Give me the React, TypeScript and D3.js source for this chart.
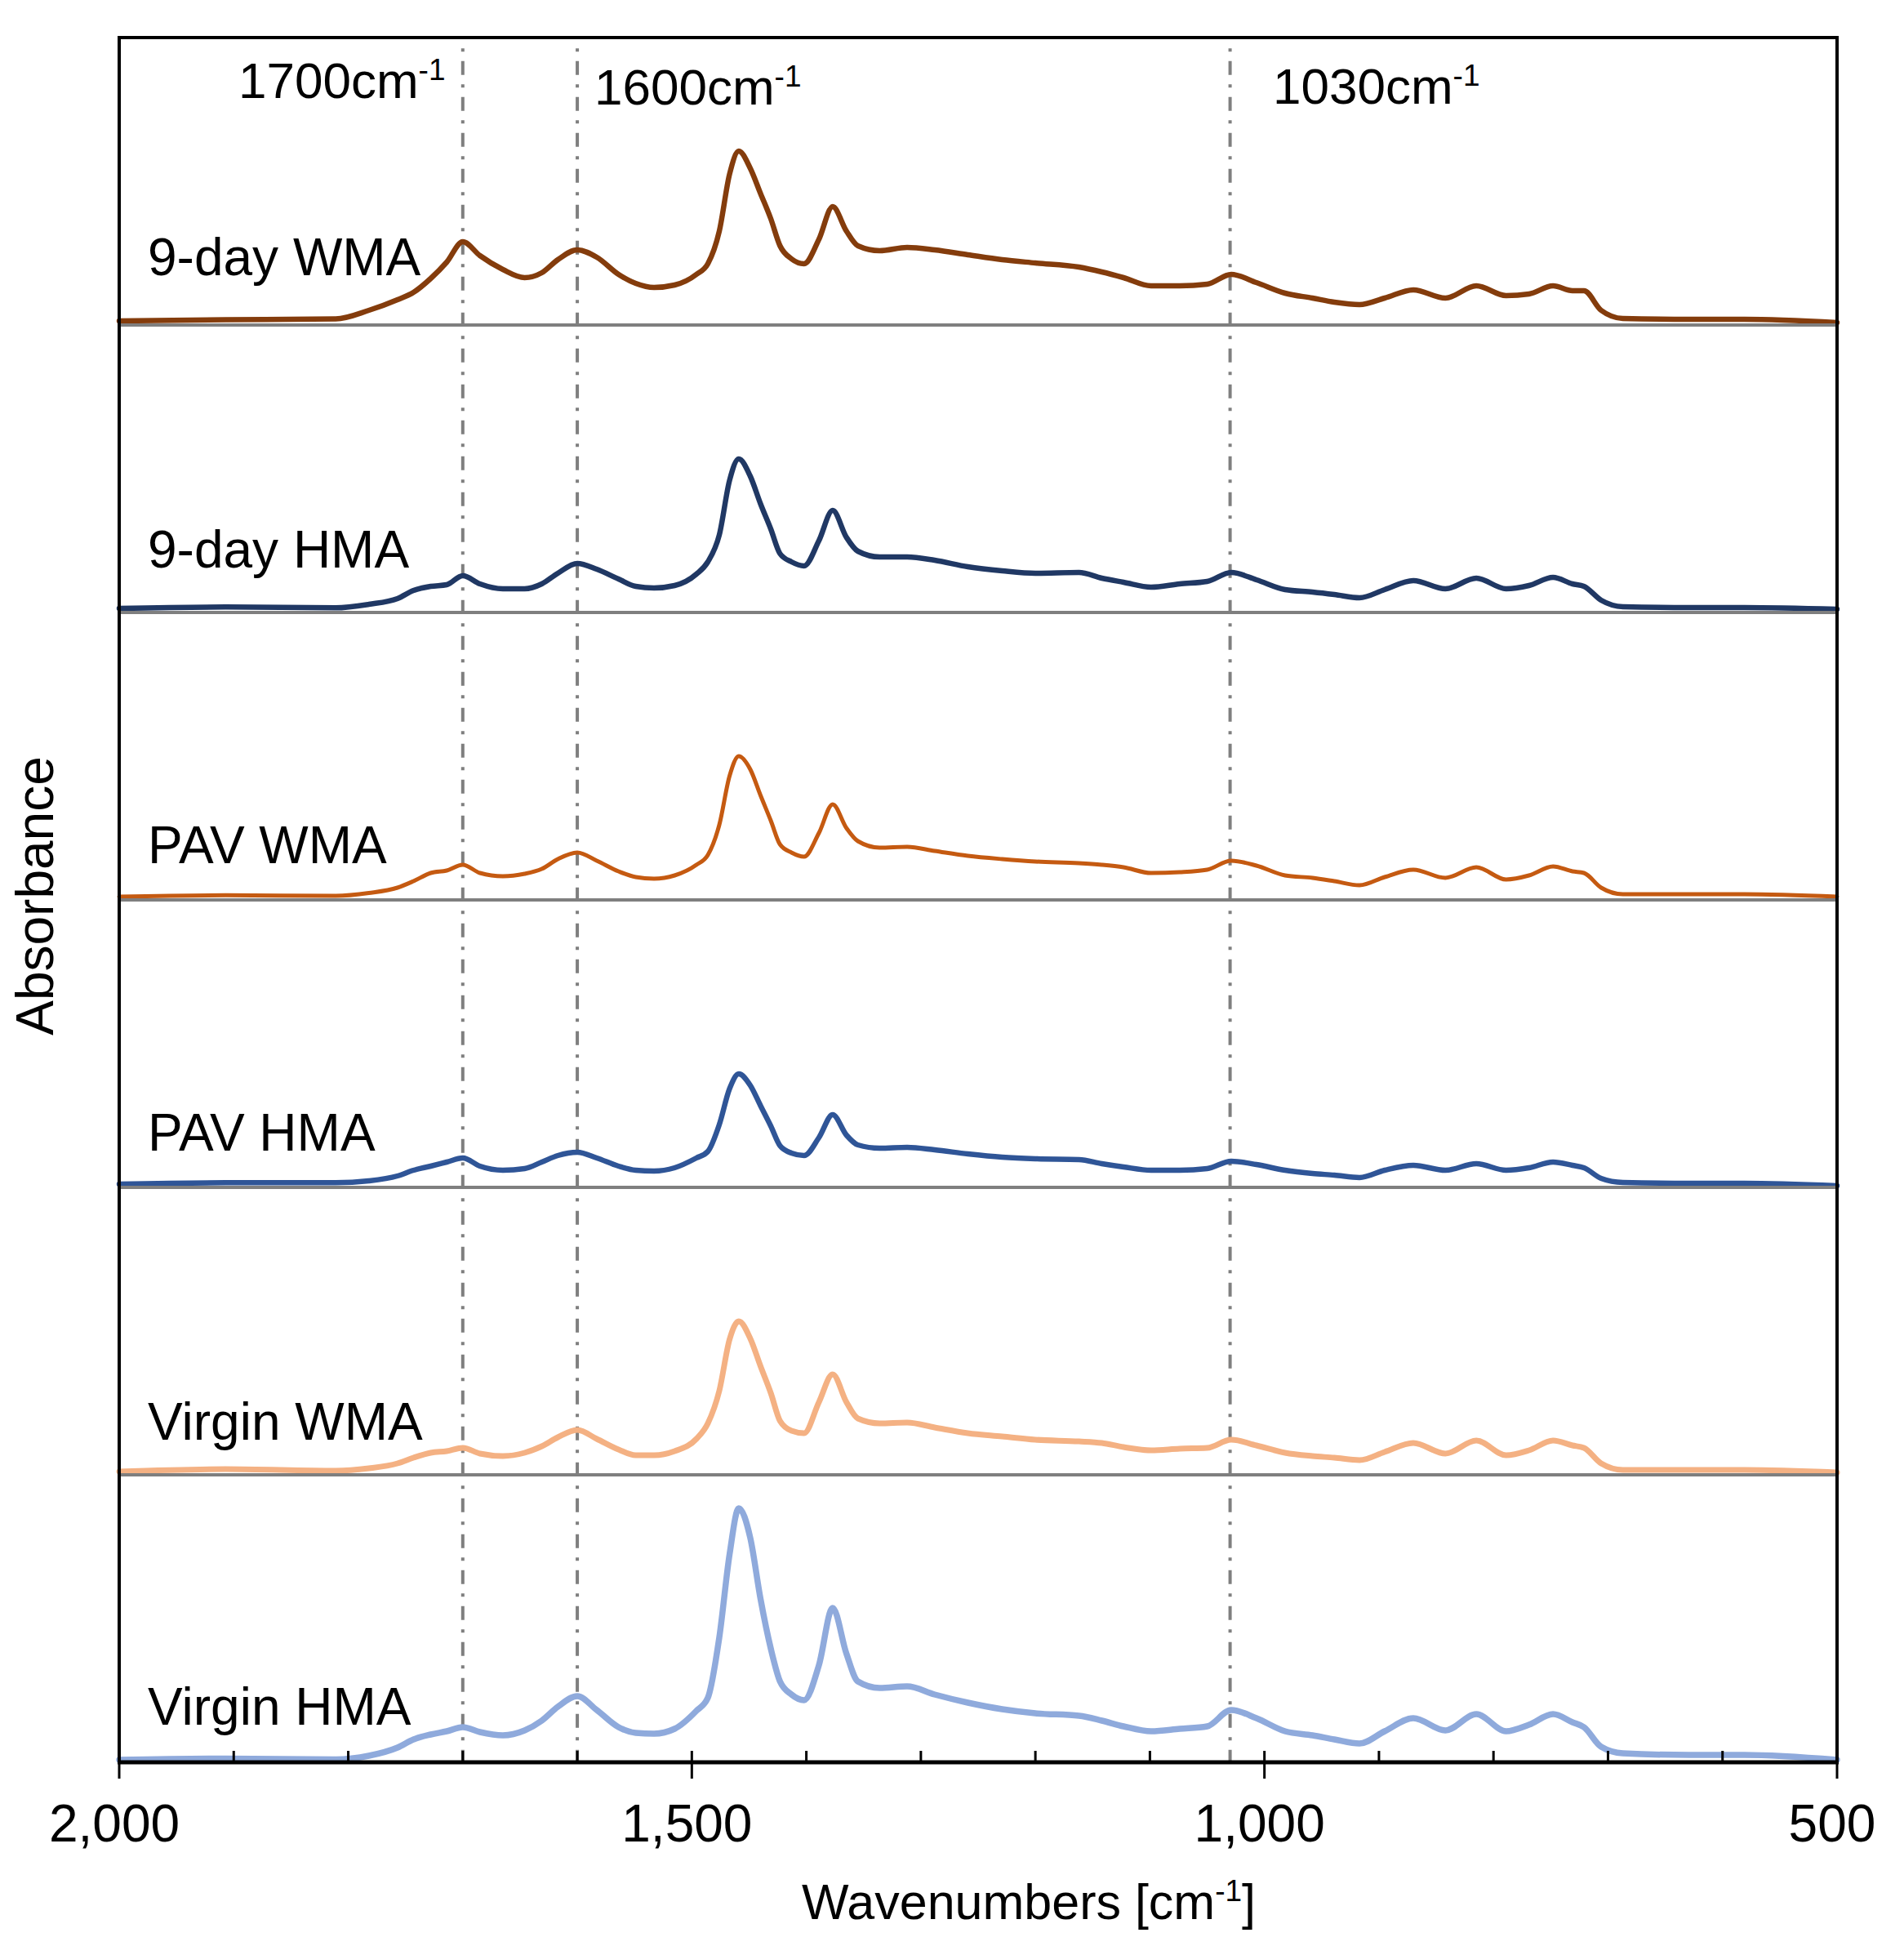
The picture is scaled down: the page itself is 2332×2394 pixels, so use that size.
import React from 'react';
import * as d3 from 'd3';

// ---------- DATA ----------
const wavenumbers = [2000, 1907, 1811, 1782, 1757, 1743, 1728, 1714, 1700, 1685, 1665, 1646, 1631, 1617, 1600, 1583, 1564, 1549, 1533, 1515, 1496, 1486, 1476, 1467, 1459, 1449, 1440, 1431, 1423, 1413, 1402, 1389, 1377, 1365, 1355, 1336, 1312, 1288, 1259, 1229, 1200, 1162, 1142, 1123, 1099, 1074, 1050, 1029, 1007, 982, 958, 939, 917, 895, 870, 842, 815, 789, 769, 748, 731, 721, 706, 687, 629, 581, 500];

// absorbance (arbitrary units, x1e-3) above each panel's own baseline
const nineDayWMA = [5, 6.5, 7.5, 18, 31, 40, 57, 77, 102, 85, 68, 58, 64, 80, 92, 83, 62, 51, 46, 49, 62, 75, 115, 185, 213, 192, 161, 130, 97, 81, 75, 105, 145, 115, 97, 91, 95, 92, 86, 80, 76, 71, 65, 58, 48, 48, 50, 62, 52, 39, 33, 28, 25, 33, 43, 33, 48, 36, 38, 48, 42, 42, 18, 8, 7, 7, 3];
const nineDayHMA = [5, 6.7, 5.7, 10, 17, 27, 32, 34, 45, 35, 29, 29, 35, 48, 60, 53, 41, 32, 30, 33, 47, 62, 95, 162, 188, 167, 133, 102, 72, 62, 57, 88, 125, 92, 75, 68, 68, 64, 56, 51, 48, 49, 42, 37, 31, 35, 38, 49, 40, 28, 25, 22, 18, 28, 39, 29, 42, 29, 33, 43, 35, 32, 15, 7, 6, 6, 4];
const pavWMA = [4, 5.7, 5, 8.5, 15, 23, 33, 36, 43, 33, 29, 32, 38, 50, 58, 48, 35, 28, 26, 30, 43, 55, 92, 152, 176, 160, 128, 97, 68, 58, 53, 82, 117, 88, 72, 64, 65, 60, 54, 50, 47, 45, 43, 40, 33, 34, 37, 48, 42, 30, 27, 23, 18, 28, 37, 27, 40, 25, 30, 41, 35, 33, 15, 7, 7, 7, 4];
const pavHMA = [4, 5.7, 5.7, 8, 14, 21, 26, 31, 36, 26, 21, 23, 31, 39, 43, 36, 26, 21, 20, 24, 36, 44, 77, 121, 139, 125, 100, 75, 51, 42, 39, 61, 89, 64, 52, 48, 49, 46, 41, 37, 35, 34, 29, 25, 21, 21, 23, 32, 28, 21, 17, 15, 12, 21, 27, 21, 29, 21, 24, 31, 27, 24, 11, 6, 5, 5, 2];
const virginWMA = [4, 7, 5, 8, 14, 21, 27, 29, 33, 26, 23, 27, 35, 46, 55, 44, 31, 24, 24, 29, 44, 63, 103, 166, 188, 167, 133, 100, 66, 54, 51, 89, 123, 89, 69, 63, 64, 58, 51, 47, 43, 41, 39, 34, 30, 32, 33, 43, 36, 27, 23, 21, 18, 28, 39, 26, 42, 24, 30, 42, 36, 33, 14, 6, 6, 6, 3];
const virginHMA = [3, 4.5, 3.5, 8, 18, 28, 34, 38, 43, 37, 33, 39, 51, 68, 81, 64, 43, 36, 35, 41, 63, 79, 153, 255, 311, 275, 200, 139, 99, 83, 76, 119, 189, 133, 99, 91, 93, 83, 73, 65, 60, 57, 51, 44, 38, 41, 44, 64, 54, 38, 33, 28, 23, 38, 54, 39, 59, 38, 46, 59, 49, 43, 19, 11, 9, 9, 3];

const seriesNames = ['9-day WMA', '9-day HMA', 'PAV WMA', 'PAV HMA', 'Virgin WMA', 'Virgin HMA'];
const seriesValues = [nineDayWMA, nineDayHMA, pavWMA, pavHMA, virginWMA, virginHMA];

const markerWavenumbers = [1700, 1600, 1030];
const markerLabels = ['1700', '1600', '1030'];
const majorTicks = [2000, 1500, 1000, 500];
const minorTicks = [1900, 1800, 1700, 1600, 1400, 1300, 1200, 1100, 900, 800, 700, 600];

// ---------- STYLE / LAYOUT ----------
const W = 2332;
const H = 2394;
const PLOT = { left: 146, right: 2250, top: 46, bottom: 2158 };
const PANEL_H = (PLOT.bottom - PLOT.top) / 6;
const colors = ['#843C0C', '#203864', '#C55A11', '#2F5597', '#F4B183', '#8FAADC'];
const widths = [6.5, 6.5, 5, 6.5, 7, 7.5];
const labelOffsets = [61, 55, 45, 45, 43, 46];
const markerTextX = [292, 728, 1559];
const markerTextBase = [120, 128, 127];
const FONT = "'Liberation Sans', Arial, Helvetica, sans-serif";

export default function App() {
  const x = d3.scaleLinear().domain([2000, 500]).range([PLOT.left, PLOT.right]);

  const panels = seriesValues.map((vals, i) => {
    const base = PLOT.top + PANEL_H * (i + 1);
    const y = d3.scaleLinear().domain([0, PANEL_H]).range([base, base - PANEL_H]);
    const line = d3
      .line<number>()
      .x((_, k) => x(wavenumbers[k]))
      .y((v) => y(v))
      .curve(d3.curveMonotoneX);
    return { base, path: line(vals) || '' };
  });

  return (
    <svg
      width={W}
      height={H}
      viewBox={`0 0 ${W} ${H}`}
      style={{ position: 'absolute', left: 0, top: 0, background: '#fff' }}
      fontFamily={FONT}
    >
      <rect x={0} y={0} width={W} height={H} fill="#fff" />

      {/* marker dash-dot lines */}
      {markerWavenumbers.map((w) => (
        <line
          key={'m' + w}
          x1={x(w)}
          x2={x(w)}
          y1={PLOT.top}
          y2={PLOT.bottom}
          stroke="#7f7f7f"
          strokeWidth={4}
          strokeDasharray="17 11.5 4 11.5"
          strokeDashoffset={15.3}
        />
      ))}

      {/* spectra */}
      {panels.map((p, i) => (
        <path
          key={'s' + i}
          d={p.path}
          fill="none"
          stroke={colors[i]}
          strokeWidth={widths[i]}
          strokeLinejoin="round"
          strokeLinecap="round"
        />
      ))}

      {/* panel separators */}
      {panels.slice(0, 5).map((p, i) => (
        <line
          key={'sep' + i}
          x1={PLOT.left}
          x2={PLOT.right}
          y1={p.base}
          y2={p.base}
          stroke="#7f7f7f"
          strokeWidth={4}
        />
      ))}

      {/* frame */}
      <line x1={PLOT.left} x2={PLOT.right} y1={PLOT.top} y2={PLOT.top} stroke="#000" strokeWidth={4} />
      <line x1={PLOT.left} x2={PLOT.left} y1={PLOT.top - 2} y2={PLOT.bottom} stroke="#000" strokeWidth={4} />
      <line x1={PLOT.right} x2={PLOT.right} y1={PLOT.top - 2} y2={PLOT.bottom} stroke="#000" strokeWidth={4} />
      <line x1={PLOT.left - 2} x2={PLOT.right + 2} y1={PLOT.bottom} y2={PLOT.bottom} stroke="#000" strokeWidth={5} />

      {/* ticks */}
      {minorTicks.map((t) => (
        <line key={'mi' + t} x1={x(t)} x2={x(t)} y1={PLOT.bottom - 14} y2={PLOT.bottom} stroke="#000" strokeWidth={3} />
      ))}
      {majorTicks.map((t) => (
        <line key={'ma' + t} x1={x(t)} x2={x(t)} y1={PLOT.bottom - 14} y2={PLOT.bottom + 20} stroke="#000" strokeWidth={3} />
      ))}
      {majorTicks.map((t) => (
        <text key={'tl' + t} x={x(t) - 6} y={2255} fontSize={64} textAnchor="middle" fill="#000">
          {d3.format(',')(t)}
        </text>
      ))}

      {/* panel labels */}
      {seriesNames.map((n, i) => (
        <text key={'l' + i} x={181} y={panels[i].base - labelOffsets[i]} fontSize={64} fill="#000">
          {n}
        </text>
      ))}

      {/* marker labels */}
      {markerLabels.map((m, i) => (
        <text key={'ml' + i} x={markerTextX[i]} y={markerTextBase[i]} fontSize={62} fill="#000">
          {m}cm
          <tspan fontSize={37} dy={-22}>-1</tspan>
        </text>
      ))}

      {/* axis titles */}
      <text x={1260} y={2350} fontSize={61} textAnchor="middle" fill="#000">
        Wavenumbers [cm
        <tspan fontSize={37} dy={-22}>-1</tspan>
        <tspan dy={22}>]</tspan>
      </text>
      <text
        transform={`translate(65, ${(PLOT.top + PLOT.bottom) / 2 - 5}) rotate(-90)`}
        fontSize={64}
        textAnchor="middle"
        fill="#000"
      >
        Absorbance
      </text>
    </svg>
  );
}
